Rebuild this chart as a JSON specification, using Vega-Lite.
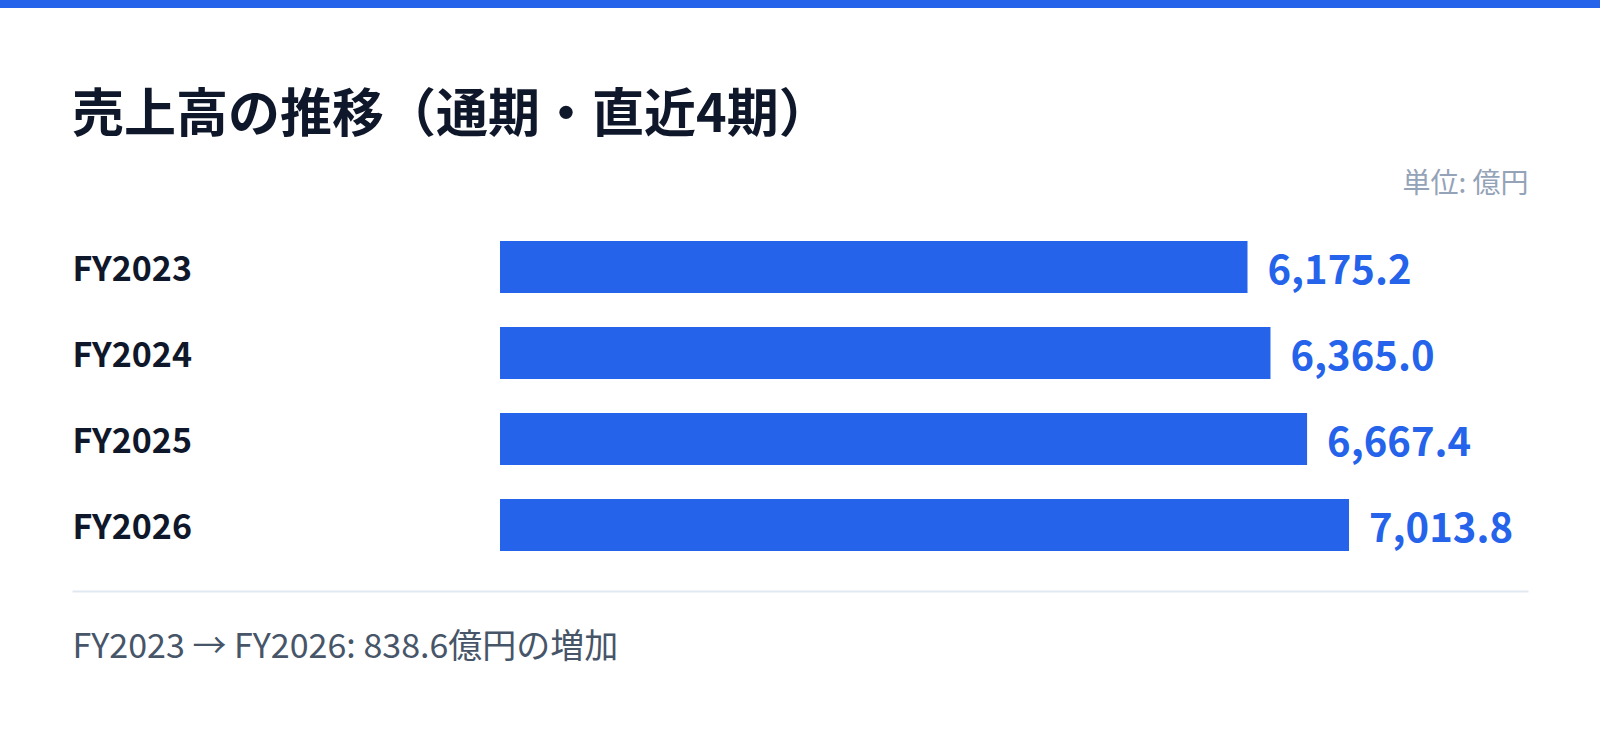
{
  "$schema": "https://vega.github.io/schema/vega-lite/v6.json",
  "padding": {"left": 0, "top": 0, "right": 0, "bottom": 60},
  "spacing": 82,
  "background": "#ffffff",
  "config": {"font": "Noto Sans CJK JP", "view": {"stroke": null}},
  "vconcat": [
    {
      "width": 1456,
      "height": 8,
      "data": {"values": [{"part": "strip"}]},
      "mark": {"type": "rect", "color": "#2563eb"},
      "encoding": {
        "x": {"datum": -0.04945, "type": "quantitative", "scale": {"domain": [0, 1]}, "axis": null},
        "x2": {"datum": 1.04945}
      }
    },
    {
      "width": 1456,
      "height": 390,
      "title": {
        "text": "売上高の推移（通期・直近4期）",
        "anchor": "start",
        "fontSize": 52,
        "fontWeight": "bold",
        "color": "#0f172a",
        "offset": 27
      },
      "data": {
        "values": [
          {"year": "FY2023", "value": 6175.2},
          {"year": "FY2024", "value": 6365.0},
          {"year": "FY2025", "value": 6667.4},
          {"year": "FY2026", "value": 7013.8}
        ]
      },
      "encoding": {
        "y": {
          "field": "year",
          "type": "nominal",
          "sort": null,
          "scale": {"paddingInner": 0.3953, "paddingOuter": 0.465},
          "axis": {
            "title": null,
            "ticks": false,
            "domain": false,
            "labelAlign": "left",
            "labelPadding": 0,
            "labelOffset": 4,
            "labelFontSize": 34,
            "labelFontWeight": "bold",
            "labelColor": "#0f172a",
            "labelBaseline": "middle"
          }
        }
      },
      "layer": [
        {
          "mark": {"type": "bar", "color": "#2563eb"},
          "encoding": {
            "x": {
              "field": "value",
              "type": "quantitative",
              "scale": {"domain": [-3535.7, 8492.4], "nice": false},
              "axis": {
                "orient": "bottom",
                "labels": false,
                "ticks": false,
                "grid": false,
                "domain": true,
                "domainColor": "#e2e8f0",
                "domainWidth": 2,
                "title": "FY2023 → FY2026: 838.6億円の増加",
                "titleAnchor": "start",
                "titleAlign": "left",
                "titleBaseline": "top",
                "titleFontSize": 34,
                "titleFontWeight": "normal",
                "titleColor": "#475569",
                "titlePadding": 39,
                "titleLimit": 1400
              }
            },
            "x2": {"datum": 0}
          }
        },
        {
          "mark": {
            "type": "text",
            "align": "left",
            "baseline": "middle",
            "dx": 20,
            "dy": 5,
            "fontSize": 40,
            "fontWeight": "bold",
            "color": "#2563eb"
          },
          "encoding": {
            "x": {
              "field": "value",
              "type": "quantitative",
              "axis": {
                "orient": "top",
                "labels": false,
                "ticks": false,
                "grid": false,
                "domain": false,
                "title": "単位: 億円",
                "titleAnchor": "end",
                "titleAlign": "right",
                "titleFontSize": 28,
                "titleFontWeight": "normal",
                "titleColor": "#94a3b8",
                "titlePadding": 3
              }
            },
            "text": {"field": "value", "type": "quantitative", "format": ",.1f"}
          }
        }
      ],
      "resolve": {"axis": {"x": "independent"}}
    }
  ]
}
